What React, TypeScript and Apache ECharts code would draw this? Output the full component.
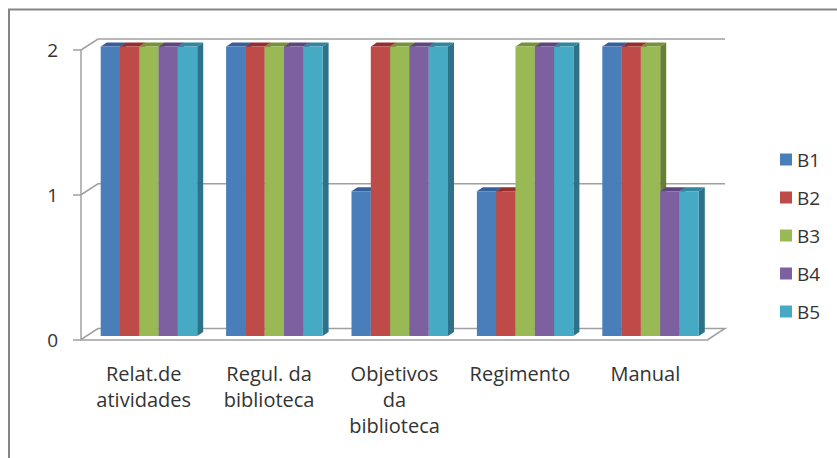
import React, { useEffect, useRef } from "react";
import * as echarts from "echarts";

const categories = [
  "Relat.de\natividades",
  "Regul. da\nbiblioteca",
  "Objetivos\nda\nbiblioteca",
  "Regimento",
  "Manual",
];
const seriesNames = ["B1", "B2", "B3", "B4", "B5"];
const b1 = [2, 2, 1, 1, 2];
const b2 = [2, 2, 2, 1, 2];
const b3 = [2, 2, 2, 2, 2];
const b4 = [2, 2, 2, 2, 1];
const b5 = [2, 2, 2, 2, 1];
const seriesValues = [b1, b2, b3, b4, b5];
const frontColors = ["#4a7ebb", "#be4b48", "#98b954", "#7d60a0", "#46aac5"];
const sideColors = ["#2f5585", "#8a3230", "#667f35", "#54406e", "#2d7288"];
const topColors = ["#35609a", "#93302e", "#769238", "#5e4580", "#31859c"];
const yTicks = [0, 1, 2];

const FONT = "'Open Sans', 'Noto Sans', sans-serif";
const WALL_DX = 17;
const WALL_DY = -11;
const BAR_W = 19.3;
const BAR_START = -43; // from the category's centre, to the first bar's left edge
const BAR_LIFT = 3.5;
const DEPTH_X = 6;
const DEPTH_Y = -4;
const LINE = "#a0a0a0";

function barRenderer(seriesIndex: number) {
  return (_params: any, api: any) => {
    const cat = api.value(0);
    const val = api.value(1);
    const top = api.coord([cat, val]);
    const base = api.coord([cat, 0]);
    const x = top[0] + BAR_START + seriesIndex * BAR_W;
    const yTop = top[1] - BAR_LIFT;
    const yBase = base[1] - BAR_LIFT;
    const w = BAR_W;
    return {
      type: "group",
      children: [
        {
          type: "polygon",
          shape: {
            points: [
              [x + w, yTop],
              [x + w + DEPTH_X, yTop + DEPTH_Y],
              [x + w + DEPTH_X, yBase + DEPTH_Y],
              [x + w, yBase],
            ],
          },
          style: { fill: sideColors[seriesIndex] },
        },
        {
          type: "polygon",
          shape: {
            points: [
              [x, yTop],
              [x + DEPTH_X, yTop + DEPTH_Y],
              [x + w + DEPTH_X, yTop + DEPTH_Y],
              [x + w, yTop],
            ],
          },
          style: { fill: topColors[seriesIndex] },
        },
        {
          type: "rect",
          shape: { x, y: yTop, width: w, height: yBase - yTop },
          style: { fill: frontColors[seriesIndex] },
        },
      ],
    };
  };
}

function wallRenderer(params: any, api: any) {
  const v = api.value(1);
  const sys = params.coordSys;
  const left = sys.x;
  const right = sys.x + sys.width;
  const y = api.coord([0, v])[1];
  const pts: number[][] = [
    [left, y],
    [left + WALL_DX, y + WALL_DY],
    [right + WALL_DX, y + WALL_DY],
  ];
  if (v === 0) pts.push([right, y]);
  return {
    type: "polyline",
    shape: { points: pts },
    style: { stroke: LINE, lineWidth: 1.5, fill: "none" },
  };
}

export default function App() {
  const ref = useRef<HTMLDivElement>(null);
  useEffect(() => {
    document.body.style.margin = "0";
    const chart = echarts.init(ref.current!, undefined, { renderer: "svg" });
    chart.setOption({
      animation: false,
      backgroundColor: "#ffffff",
      color: frontColors,
      textStyle: { fontFamily: FONT },
      grid: { left: 81, right: 129, top: 50, bottom: 118.5 },
      legend: {
        orient: "vertical",
        left: 775,
        top: 145,
        icon: "rect",
        itemWidth: 12,
        itemHeight: 12,
        itemGap: 19,
        selectedMode: false,
        data: seriesNames,
        textStyle: { fontSize: 19, color: "#333333", fontFamily: FONT },
      },
      xAxis: {
        type: "category",
        data: categories,
        axisLine: { lineStyle: { color: LINE, width: 1.5 } },
        axisTick: { length: 7, lineStyle: { color: LINE, width: 1.5 } },
        axisLabel: {
          interval: 0,
          margin: 21,
          fontSize: 20,
          lineHeight: 26,
          color: "#333333",
          fontFamily: FONT,
        },
      },
      yAxis: {
        type: "value",
        min: 0,
        max: 2,
        interval: 1,
        splitLine: { show: false },
        axisLine: { show: true, lineStyle: { color: LINE, width: 1.5 } },
        axisTick: { show: true, length: 8, lineStyle: { color: LINE, width: 1.5 } },
        axisLabel: { margin: 23, fontSize: 19, color: "#333333", fontFamily: FONT },
      },
      graphic: [
        {
          type: "polyline",
          shape: { points: [[9, 458], [9, 9.5], [837, 9.5]] },
          style: { stroke: "#858585", lineWidth: 2, fill: "none" },
          silent: true,
        },
      ],
      series: [
        {
          type: "custom",
          name: "wall",
          z: 1,
          clip: false,
          silent: true,
          renderItem: wallRenderer,
          data: yTicks.map((v) => [0, v]),
          encode: { x: 0, y: 1 },
        },
        ...seriesNames.map((name, i) => ({
          type: "custom",
          name,
          z: 3 + i,
          clip: false,
          silent: true,
          itemStyle: { color: frontColors[i] },
          renderItem: barRenderer(i),
          data: seriesValues[i].map((v, c) => [c, v]),
          encode: { x: 0, y: 1 },
        })),
      ],
    });
    return () => chart.dispose();
  }, []);
  return <div ref={ref} style={{ width: 837, height: 458 }} />;
}
